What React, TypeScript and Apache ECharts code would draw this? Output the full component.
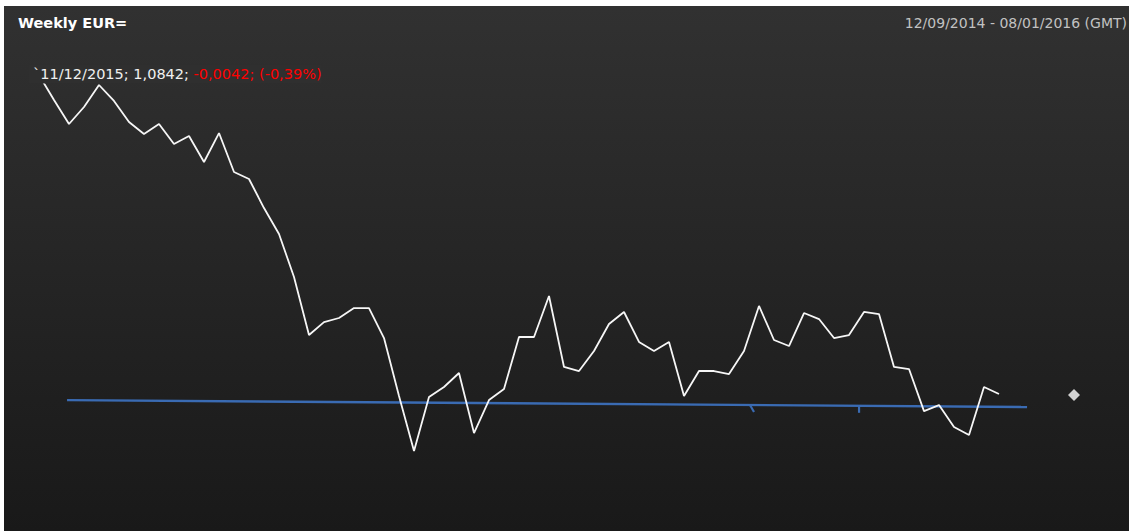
import React, { useEffect, useRef } from "react";
import * as echarts from "echarts";

const titleText = "Weekly EUR=";
const rangeText = "12/09/2014 - 08/01/2016 (GMT)";
const labelWhite = "`11/12/2015; 1,0842; ";
const labelRed = "-0,0042; (-0,39%)";

const startDate = Date.UTC(2014, 8, 12);
const weekCount = 70;
const pad = (n: number) => (n < 10 ? "0" + n : "" + n);
const weeks: string[] = Array.from({ length: weekCount }, (_, i) => {
  const d = new Date(startDate + i * 7 * 86400000);
  return pad(d.getUTCDate()) + "/" + pad(d.getUTCMonth() + 1) + "/" + d.getUTCFullYear();
});

const closes: number[] = [
  1.2991, 1.2825, 1.2666, 1.2779, 1.2925, 1.2819, 1.2679, 1.26, 1.2666, 1.2533,
  1.2586, 1.2414, 1.2606, 1.2347, 1.2301, 1.2108, 1.1936, 1.165, 1.1265, 1.1351,
  1.1378, 1.1444, 1.1444, 1.1245, 1.086, 1.0495, 1.0853, 1.092, 1.1013, 1.0614,
  1.0833, 1.0906, 1.1252, 1.1252, 1.1524, 1.1053, 1.1026, 1.1159, 1.1338, 1.1418,
  1.1219, 1.1159, 1.1219, 1.086, 1.1026, 1.1026, 1.1006, 1.1159, 1.1458, 1.1232,
  1.1192, 1.1411, 1.1371, 1.1245, 1.1265, 1.1418, 1.1404, 1.1053, 1.1039, 1.076,
  1.08, 1.0654, 1.0601, 1.092, 1.0873,
];

// trend line end points: [week position, value]
const trendPoints: [number, number][] = [
  [1.87, 1.0833],
  [65.87, 1.0787],
];

// small event markers on the trend line: [week position, value, slant]
const eventMarks: [number, number, number][] = [
  [47.4, 1.08, 4],
  [54.67, 1.0795, 0],
];

// last-date marker
const lastMarker: [number, number][] = [[69, 1.0867]];

export default function App() {
  const ref = useRef<HTMLDivElement>(null);

  useEffect(() => {
    if (!ref.current) return;
    const chart = echarts.init(ref.current, undefined, { renderer: "svg" });
    const font = "DejaVu Sans";
    const hiddenAxis = {
      axisLine: { show: false },
      axisTick: { show: false },
      axisLabel: { show: false },
      splitLine: { show: false },
    };
    chart.setOption({
      animation: false,
      backgroundColor: new echarts.graphic.LinearGradient(0, 0, 0, 1, [
        { offset: 0, color: "#313131" },
        { offset: 1, color: "#191919" },
      ]),
      grid: { left: 35, top: 67.7, height: 391.6, right: 55 },
      xAxis: [
        { type: "category", data: weeks, boundaryGap: false, ...hiddenAxis },
        { type: "value", min: 0, max: weekCount - 1, ...hiddenAxis },
      ],
      yAxis: { type: "value", min: 1.04, max: 1.3, ...hiddenAxis },
      series: [
        {
          type: "line",
          xAxisIndex: 1,
          data: trendPoints,
          symbol: "none",
          lineStyle: { color: "#3a6bb3", width: 2.4 },
          z: 2,
        },
        {
          type: "custom",
          xAxisIndex: 1,
          data: eventMarks,
          z: 2,
          renderItem: (params: any, api: any) => {
            const p = api.coord([api.value(0), api.value(1)]);
            const dx = api.value(2);
            return {
              type: "line",
              shape: { x1: p[0], y1: p[1], x2: p[0] + dx, y2: p[1] + 7 },
              style: { stroke: "#3a6bb3", lineWidth: 2.2 },
            };
          },
        },
        {
          type: "line",
          data: closes,
          symbol: "none",
          lineStyle: { color: "#f6f6f6", width: 1.8 },
          z: 3,
        },
        {
          type: "scatter",
          xAxisIndex: 1,
          data: lastMarker,
          symbol: "diamond",
          symbolSize: 12,
          itemStyle: { color: "#ffffff" },
          z: 4,
        },
      ],
      graphic: [
        {
          type: "text",
          left: 14,
          top: 9,
          z: 10,
          style: {
            text: titleText,
            fill: "#ffffff",
            font: "bold 14.5px '" + font + "'",
          },
        },
        {
          type: "text",
          x: 1123,
          y: 17,
          z: 10,
          style: {
            text: rangeText,
            fill: "#c2c2c2",
            font: "14px '" + font + "'",
            align: "right",
            verticalAlign: "middle",
          },
        },
        {
          type: "text",
          x: 25,
          y: 68,
          z: 10,
          style: {
            text: "{w|" + labelWhite + "}{r|" + labelRed + "}",
            verticalAlign: "middle",
            backgroundColor: "#2f2f2f",
            padding: [2, 0, 2, 4],
            rich: {
              w: { fill: "#f0f0f0", fontFamily: font, fontSize: 14.5 },
              r: { fill: "#ff0000", fontFamily: font, fontSize: 14.5 },
            },
          },
        },
      ],
    });
    return () => chart.dispose();
  }, []);

  return (
    <div
      ref={ref}
      style={{ position: "fixed", left: 4, top: 6, width: 1125, height: 525 }}
    />
  );
}
